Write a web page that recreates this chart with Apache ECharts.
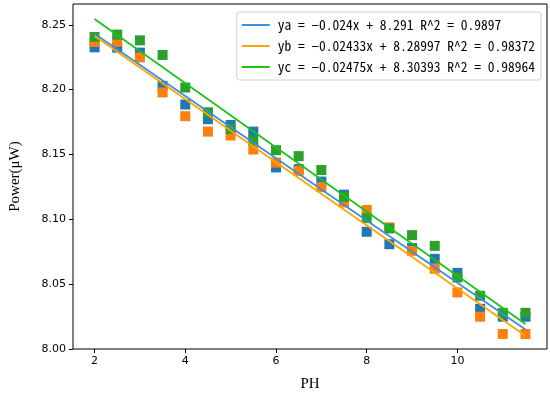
<!DOCTYPE html>
<html>
<head>
<meta charset="utf-8">
<script src="https://cdn.jsdelivr.net/npm/echarts@6/dist/echarts.min.js"></script>
<style>html,body{margin:0;padding:0;background:#fff}#c{width:550px;height:397px}</style>
</head>
<body>
<div id="c"></div>
<script>
const phValues = [2,2.5,3,3.5,4,4.5,5,5.5,6,6.5,7,7.5,8,8.5,9,9.5,10,10.5,11,11.5];
const powerA = [8.2326,8.2323,8.2285,8.2029,8.1885,8.1772,8.1727,8.1676,8.1400,8.1387,8.1291,8.1190,8.0904,8.0808,8.0778,8.0695,8.0587,8.0310,8.0249,8.0249];
const powerB = [8.2368,8.2368,8.2248,8.1978,8.1795,8.1676,8.1646,8.1538,8.1437,8.1374,8.1248,8.1130,8.1072,8.0938,8.0757,8.0619,8.0436,8.0249,8.0116,8.0116];
const powerC = [8.2406,8.2424,8.2380,8.2267,8.2016,8.1825,8.1697,8.1608,8.1533,8.1487,8.1380,8.1173,8.1009,8.0929,8.0878,8.0795,8.0551,8.0410,8.0279,8.0279];
const fitNames = ['ya = −0.024x + 8.291 R^2 = 0.9897','yb = −0.02433x + 8.28997 R^2 = 0.98372','yc = −0.02475x + 8.30393 R^2 = 0.98964'];
const fitSlopes = [-0.024,-0.02433,-0.02475];
const fitIntercepts = [8.291,8.28997,8.30393];
const fitRange = [2,11.5];
const xTicks = [2,4,6,8,10];
const yTicks = [8.00,8.05,8.10,8.15,8.20,8.25];

const scatterColors = ['#1f77b4','#ff7f0e','#2ca02c'];
const lineColors = ['#3d8fdc','#ffa500','#1cc21c'];
const pts = [powerA,powerB,powerC];

const series = [];
pts.forEach((arr,i)=>{
  series.push({type:'scatter',symbol:'rect',symbolSize:10,itemStyle:{color:scatterColors[i],opacity:1},
    data: phValues.map((x,j)=>[x,arr[j]]),z:2,silent:true});
});
fitNames.forEach((n,i)=>{
  series.push({type:'line',name:n,symbol:'none',showSymbol:false,lineStyle:{color:lineColors[i],width:1.8},
    itemStyle:{color:lineColors[i]},
    data: fitRange.map(x=>[x, fitIntercepts[i]+fitSlopes[i]*x]),z:3,silent:true});
});

const chart = echarts.init(document.getElementById('c'),null,{renderer:'canvas'});
chart.setOption({
  animation:false,
  grid:{left:67,right:3,top:4,bottom:40,show:true,borderColor:'#000',borderWidth:1,backgroundColor:'transparent'},
  legend:{
    data:fitNames, orient:'vertical', right:9, top:12, icon:'rect',
    backgroundColor:'#fff', borderColor:'#d0d0d0', borderWidth:1, borderRadius:3,
    padding:[6,6,6,5], itemWidth:28, itemHeight:2, itemGap:7,
    textStyle:{fontFamily:'"Noto Sans Mono CJK SC","DejaVu Sans Mono",monospace',fontSize:13.5,color:'#000',padding:[0,0,0,3],lineHeight:14}
  },
  xAxis:{type:'value',min:1.525,max:11.975,name:'PH',nameLocation:'middle',nameGap:28,
    nameTextStyle:{fontFamily:'Liberation Serif',fontSize:15,color:'#000'},
    axisLine:{show:false},splitLine:{show:false},
    axisTick:{show:true,length:4,inside:false,lineStyle:{color:'#000'},customValues:xTicks},
    axisLabel:{color:'#000',fontFamily:'DejaVu Sans',fontSize:11,margin:7,customValues:xTicks,formatter:v=>String(v)}
  },
  yAxis:{type:'value',min:8.0,max:8.266,name:'Power(μW)',nameLocation:'middle',nameGap:50,nameRotate:90,
    nameTextStyle:{fontFamily:'Liberation Serif',fontSize:15,color:'#000'},
    axisLine:{show:false},splitLine:{show:false},
    axisTick:{show:true,length:4,inside:false,lineStyle:{color:'#000'},customValues:yTicks},
    axisLabel:{color:'#000',fontFamily:'DejaVu Sans',fontSize:11,margin:7,customValues:yTicks,formatter:v=>v.toFixed(2)}
  },
  series:series
});
</script>
</body>
</html>
